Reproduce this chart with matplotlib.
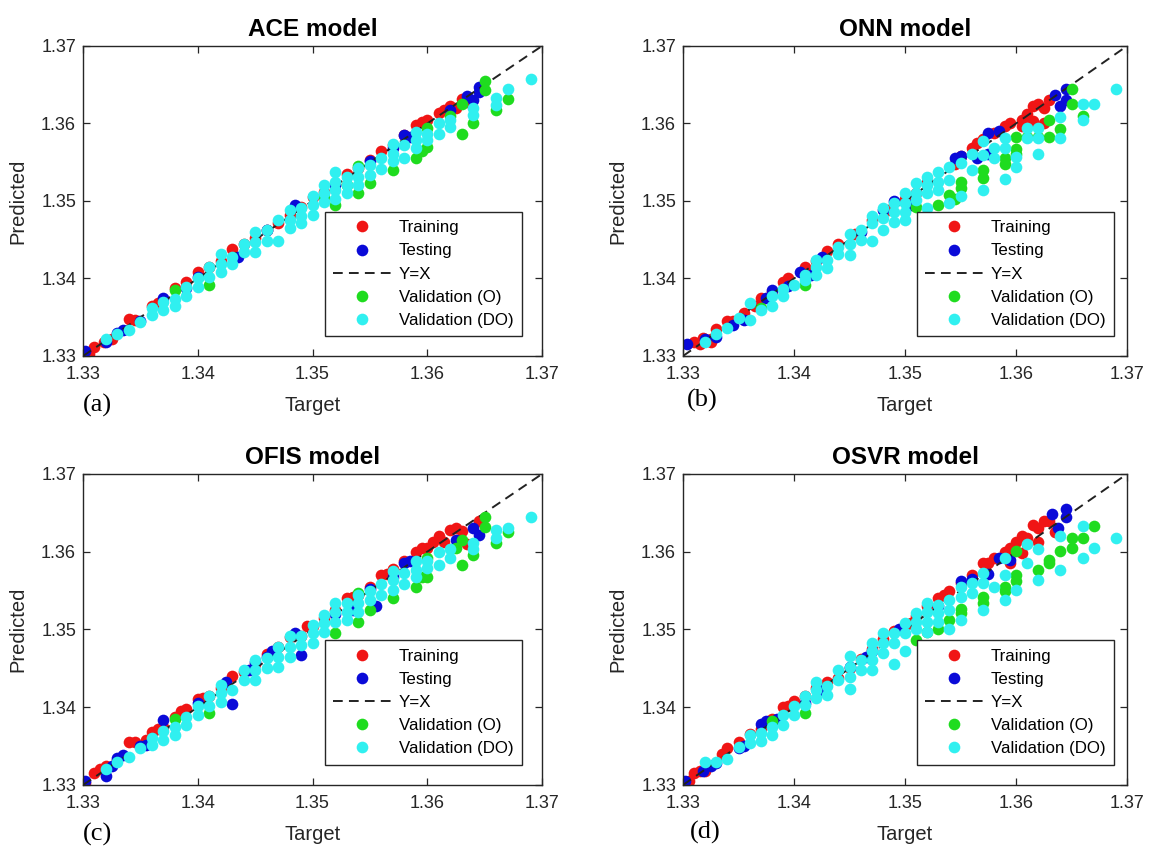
import matplotlib
matplotlib.use("Agg")
import matplotlib.pyplot as plt

# ---------------- data (Target, Predicted) ----------------
models = ["ACE model", "ONN model", "OFIS model", "OSVR model"]
panel_labels = ["(a)", "(b)", "(c)", "(d)"]
series_names = ["Training", "Testing", "Y=X", "Validation (O)", "Validation (DO)"]
axis_ticks = [1.33, 1.34, 1.35, 1.36, 1.37]
identity_line = [1.33, 1.37]

ace_training = [(1.3305,1.3303),(1.331,1.3311),(1.3318,1.3318),(1.3325,1.3322),(1.334,1.3348),(1.3345,1.3347),
    (1.336,1.3365),(1.3365,1.3368),(1.338,1.3388),(1.339,1.3395),(1.340,1.3408),(1.341,1.3415),(1.342,1.3423),
    (1.343,1.3438),(1.344,1.3445),(1.345,1.3452),(1.346,1.3462),(1.347,1.3472),(1.348,1.3482),(1.349,1.3492),
    (1.350,1.3505),(1.351,1.3512),(1.352,1.3522),(1.353,1.3535),(1.354,1.3543),(1.355,1.3553),(1.356,1.3565),
    (1.357,1.3572),(1.358,1.3585),(1.359,1.3598),(1.3595,1.3602),(1.360,1.3605),(1.361,1.3613),(1.3615,1.3617),
    (1.362,1.3622),(1.3625,1.3620),(1.363,1.3632),(1.3635,1.3628)]
ace_testing = [(1.3302,1.3306),(1.332,1.3318),(1.333,1.3330),(1.3335,1.3334),(1.335,1.3345),(1.337,1.3375),
    (1.339,1.3388),(1.340,1.3402),(1.3435,1.3428),(1.346,1.3462),(1.3485,1.3495),(1.352,1.3520),(1.355,1.3552),
    (1.357,1.3568),(1.358,1.3585),(1.3585,1.3582),(1.362,1.3618),(1.3635,1.3635),(1.364,1.3630),(1.3645,1.3647),
    (1.3645,1.3640)]
ace_val_o = [(1.338,1.3385),(1.341,1.3392),(1.351,1.3505),(1.352,1.3495),(1.353,1.3520),(1.354,1.3510),
    (1.354,1.3545),(1.355,1.3523),(1.357,1.3540),(1.359,1.3555),(1.3595,1.3565),(1.360,1.3570),(1.360,1.3594),
    (1.362,1.3610),(1.363,1.3587),(1.363,1.3625),(1.364,1.3600),(1.365,1.3643),(1.365,1.3655),(1.366,1.3618),
    (1.367,1.3632)]
ace_val_do = [(1.369,1.3657),(1.366,1.3633),(1.366,1.3624),(1.367,1.3644),(1.364,1.3620),(1.364,1.3611),
    (1.362,1.3604),(1.362,1.3595),(1.361,1.3600),(1.361,1.3587),(1.360,1.3587),(1.360,1.3579),(1.359,1.3589),
    (1.359,1.3579),(1.359,1.3568),(1.358,1.3556),(1.358,1.3572),(1.357,1.3574),(1.357,1.3561),(1.357,1.3551),
    (1.356,1.3556),(1.356,1.3541),(1.355,1.3547),(1.355,1.3534),(1.354,1.3543),(1.354,1.3531),(1.354,1.3521),
    (1.353,1.3531),(1.353,1.3521),(1.353,1.3510),(1.352,1.3538),(1.352,1.3525),(1.352,1.3514),(1.352,1.3503),
    (1.351,1.3521),(1.351,1.3510),(1.351,1.3499),(1.350,1.3506),(1.350,1.3495),(1.350,1.3482),(1.349,1.3491),
    (1.349,1.3480),(1.349,1.3471),(1.348,1.3488),(1.348,1.3475),(1.348,1.3465),(1.347,1.3475),(1.347,1.3448),
    (1.346,1.3462),(1.346,1.3449),(1.345,1.3460),(1.345,1.3447),(1.345,1.3434),(1.344,1.3445),(1.344,1.3434),
    (1.343,1.3428),(1.343,1.3419),(1.342,1.3432),(1.342,1.3419),(1.342,1.3409),(1.341,1.3415),(1.341,1.3402),
    (1.340,1.3400),(1.340,1.3389),(1.339,1.3389),(1.339,1.3377),(1.338,1.3374),(1.338,1.3364),(1.337,1.3370),
    (1.337,1.3359),(1.336,1.3362),(1.336,1.3353),(1.335,1.3344),(1.334,1.3334),(1.333,1.3329),(1.332,1.3322)]

onn_training = [(1.3310,1.3318),(1.3315,1.3315),(1.3318,1.3323),(1.3325,1.3322),(1.3325,1.3318),(1.333,1.3335),
    (1.334,1.3345),(1.3345,1.3345),(1.3355,1.3355),(1.3365,1.3365),(1.337,1.3375),(1.338,1.3383),(1.339,1.3395),
    (1.3395,1.3400),(1.341,1.3415),(1.342,1.3423),(1.343,1.3435),(1.344,1.3445),(1.3455,1.3458),(1.347,1.3475),
    (1.3485,1.3488),(1.350,1.3502),(1.351,1.3510),(1.352,1.3525),(1.3545,1.3548),(1.355,1.3558),(1.356,1.3568),
    (1.3565,1.3575),(1.357,1.3580),(1.358,1.3588),(1.359,1.3597),(1.3595,1.3600),(1.3605,1.3605),(1.3605,1.3597),
    (1.361,1.3612),(1.3615,1.3622),(1.3615,1.3603),(1.362,1.3625),(1.3625,1.3620),(1.3625,1.3600),(1.363,1.3630)]
onn_testing = [(1.3304,1.3315),(1.332,1.3322),(1.333,1.3325),(1.3345,1.3340),(1.3355,1.3347),(1.3375,1.3375),
    (1.338,1.3385),(1.3395,1.3390),(1.3405,1.3408),(1.3415,1.3405),(1.3425,1.3428),(1.346,1.3460),(1.348,1.3488),
    (1.349,1.3500),(1.3505,1.3495),(1.3545,1.3555),(1.355,1.3558),(1.3565,1.3555),(1.3575,1.3588),(1.3575,1.3560),
    (1.3585,1.3590),(1.3635,1.3637),(1.364,1.3622),(1.3645,1.3630),(1.3645,1.3645)]
onn_val_o = [(1.337,1.3362),(1.341,1.3392),(1.351,1.3492),(1.353,1.3495),(1.354,1.3508),(1.3545,1.3502),
    (1.355,1.3517),(1.355,1.3525),(1.357,1.3530),(1.357,1.3540),(1.359,1.3548),(1.359,1.3555),(1.360,1.3560),
    (1.360,1.3567),(1.360,1.3582),(1.361,1.3582),(1.362,1.3582),(1.363,1.3582),(1.363,1.3605),(1.364,1.3593),
    (1.365,1.3625),(1.365,1.3645),(1.366,1.3610)]
onn_val_do = [(1.369,1.3645),(1.366,1.3625),(1.367,1.3625),(1.366,1.3604),(1.364,1.3609),(1.364,1.3581),
    (1.362,1.3594),(1.362,1.3581),(1.362,1.3561),(1.361,1.3594),(1.361,1.3581),(1.360,1.3557),(1.360,1.3544),
    (1.359,1.3581),(1.359,1.3568),(1.359,1.3529),(1.358,1.3568),(1.358,1.3555),(1.357,1.3577),(1.357,1.3559),
    (1.357,1.3514),(1.356,1.3561),(1.356,1.3540),(1.355,1.3549),(1.355,1.3506),(1.354,1.3544),(1.354,1.3527),
    (1.354,1.3497),(1.353,1.3538),(1.353,1.3525),(1.353,1.3514),(1.352,1.3531),(1.352,1.3521),(1.352,1.3510),
    (1.352,1.3491),(1.351,1.3523),(1.351,1.3510),(1.351,1.3501),(1.350,1.3510),(1.350,1.3497),(1.350,1.3486),
    (1.350,1.3475),(1.349,1.3497),(1.349,1.3486),(1.349,1.3473),(1.348,1.3491),(1.348,1.3478),(1.348,1.3463),
    (1.347,1.3480),(1.347,1.3471),(1.347,1.3448),(1.346,1.3463),(1.346,1.3450),(1.345,1.3458),(1.345,1.3445),
    (1.345,1.3430),(1.344,1.3441),(1.344,1.3432),(1.343,1.3424),(1.343,1.3413),(1.342,1.3424),(1.342,1.3415),
    (1.342,1.3405),(1.341,1.3405),(1.341,1.3398),(1.340,1.3392),(1.339,1.3387),(1.339,1.3377),(1.338,1.3377),
    (1.338,1.3364),(1.337,1.3359),(1.336,1.3368),(1.336,1.3346),(1.335,1.3349),(1.334,1.3336),(1.333,1.3329),
    (1.332,1.3318)]

ofis_training = [(1.3302,1.3303),(1.331,1.3315),(1.3315,1.3320),(1.332,1.3325),(1.333,1.3332),(1.334,1.3355),
    (1.3345,1.3355),(1.3355,1.3358),(1.336,1.3368),(1.3365,1.3372),(1.337,1.3375),(1.338,1.3388),(1.3385,1.3395),
    (1.339,1.3398),(1.340,1.3410),(1.3405,1.3412),(1.341,1.3415),(1.342,1.3425),(1.343,1.3440),(1.344,1.3445),
    (1.345,1.3455),(1.346,1.3468),(1.347,1.3478),(1.348,1.3490),(1.349,1.3492),(1.3495,1.3505),(1.350,1.3505),
    (1.351,1.3515),(1.352,1.3525),(1.353,1.3540),(1.3535,1.3542),(1.354,1.3545),(1.355,1.3555),(1.356,1.3570),
    (1.3565,1.3572),(1.357,1.3578),(1.358,1.3588),(1.359,1.3600),(1.3595,1.3605),(1.360,1.3605),(1.3605,1.3612),
    (1.361,1.3620),(1.3615,1.3612),(1.362,1.3628),(1.3625,1.3630),(1.363,1.3627),(1.3635,1.3610),(1.3645,1.3640)]
ofis_testing = [(1.3302,1.3305),(1.332,1.3312),(1.3325,1.3325),(1.333,1.3335),(1.3335,1.3338),(1.335,1.3350),
    (1.3355,1.3352),(1.337,1.3383),(1.340,1.3405),(1.3425,1.3432),(1.343,1.3404),(1.3445,1.3448),(1.345,1.3458),
    (1.346,1.3465),(1.3465,1.3472),(1.3485,1.3495),(1.349,1.3467),(1.352,1.3520),(1.3535,1.3525),(1.355,1.3552),
    (1.3555,1.3530),(1.357,1.3568),(1.358,1.3585),(1.3585,1.3588),(1.3625,1.3615),(1.364,1.3630),(1.3645,1.3622)]
ofis_val_o = [(1.338,1.3385),(1.341,1.3392),(1.352,1.3495),(1.354,1.3510),(1.354,1.3547),(1.355,1.3525),
    (1.357,1.3540),(1.359,1.3555),(1.3595,1.3568),(1.360,1.3568),(1.360,1.3592),(1.3625,1.3605),(1.363,1.3583),
    (1.363,1.3615),(1.364,1.3596),(1.365,1.3632),(1.365,1.3645),(1.366,1.3611),(1.367,1.3626)]
ofis_val_do = [(1.369,1.3645),(1.366,1.3628),(1.366,1.3618),(1.367,1.3630),(1.364,1.3611),(1.364,1.3603),
    (1.362,1.3603),(1.362,1.3592),(1.361,1.3600),(1.361,1.3583),(1.360,1.3588),(1.360,1.3579),(1.359,1.3588),
    (1.359,1.3577),(1.359,1.3568),(1.358,1.3573),(1.358,1.3558),(1.357,1.3575),(1.357,1.3564),(1.357,1.3551),
    (1.356,1.3558),(1.356,1.3545),(1.355,1.3549),(1.355,1.3538),(1.354,1.3545),(1.354,1.3534),(1.354,1.3523),
    (1.353,1.3534),(1.353,1.3523),(1.353,1.3512),(1.352,1.3534),(1.352,1.3523),(1.352,1.3510),(1.351,1.3519),
    (1.351,1.3508),(1.351,1.3497),(1.350,1.3506),(1.350,1.3495),(1.350,1.3482),(1.349,1.3491),(1.349,1.3480),
    (1.348,1.3491),(1.348,1.3478),(1.348,1.3465),(1.347,1.3478),(1.347,1.3465),(1.347,1.3452),(1.346,1.3463),
    (1.346,1.3450),(1.345,1.3461),(1.345,1.3448),(1.345,1.3435),(1.344,1.3448),(1.344,1.3435),(1.343,1.3422),
    (1.342,1.3428),(1.342,1.3418),(1.342,1.3407),(1.341,1.3414),(1.341,1.3401),(1.340,1.3401),(1.340,1.3390),
    (1.339,1.3388),(1.339,1.3377),(1.338,1.3375),(1.338,1.3364),(1.337,1.3369),(1.337,1.3358),(1.336,1.3360),
    (1.336,1.3352),(1.335,1.3347),(1.334,1.3336),(1.333,1.3330),(1.332,1.3321)]

osvr_training = [(1.3305,1.3305),(1.331,1.3315),(1.3315,1.3318),(1.332,1.3318),(1.3335,1.3340),(1.334,1.3348),
    (1.335,1.3355),(1.336,1.3365),(1.337,1.3372),(1.338,1.3385),(1.339,1.3400),(1.3395,1.3402),(1.340,1.3408),
    (1.341,1.3415),(1.342,1.3425),(1.343,1.3432),(1.344,1.3438),(1.345,1.3450),(1.346,1.3462),(1.347,1.3475),
    (1.348,1.3488),(1.349,1.3498),(1.350,1.3505),(1.3505,1.3508),(1.351,1.3518),(1.352,1.3530),(1.353,1.3540),
    (1.3535,1.3545),(1.354,1.3550),(1.355,1.3560),(1.356,1.3570),(1.357,1.3585),(1.3575,1.3585),(1.358,1.3592),
    (1.359,1.3600),(1.3595,1.3605),(1.3595,1.3585),(1.360,1.3612),(1.3605,1.3620),(1.3605,1.3598),(1.361,1.3618),
    (1.3615,1.3635),(1.362,1.3630),(1.362,1.3612),(1.3625,1.3640),(1.363,1.3640),(1.3635,1.3625)]
osvr_testing = [(1.3302,1.3305),(1.3318,1.3318),(1.3325,1.3325),(1.333,1.3328),(1.335,1.3348),(1.3355,1.3350),
    (1.337,1.3378),(1.3375,1.3382),(1.3385,1.3385),(1.341,1.3405),(1.3425,1.3422),(1.345,1.3452),(1.3465,1.3465),
    (1.347,1.3472),(1.3495,1.3500),(1.353,1.3530),(1.355,1.3562),(1.356,1.3565),(1.3575,1.3572),(1.3585,1.3592),
    (1.3595,1.3590),(1.3632,1.3648),(1.3638,1.3630),(1.3645,1.3655),(1.3645,1.3645)]
osvr_val_o = [(1.338,1.3382),(1.341,1.3392),(1.351,1.3487),(1.352,1.3497),(1.353,1.3500),(1.354,1.3512),
    (1.355,1.3527),(1.355,1.3521),(1.357,1.3542),(1.357,1.3534),(1.359,1.3555),(1.359,1.3549),(1.360,1.3601),
    (1.360,1.3570),(1.360,1.3562),(1.362,1.3577),(1.363,1.3590),(1.363,1.3586),(1.364,1.3601),(1.365,1.3618),
    (1.365,1.3605),(1.366,1.3618),(1.367,1.3633)]
osvr_val_do = [(1.369,1.3618),(1.366,1.3633),(1.366,1.3592),(1.367,1.3605),(1.364,1.3620),(1.364,1.3577),
    (1.362,1.3603),(1.362,1.3564),(1.361,1.3610),(1.361,1.3585),(1.360,1.3551),(1.359,1.3592),(1.359,1.3570),
    (1.359,1.3538),(1.358,1.3555),(1.357,1.3573),(1.357,1.3560),(1.357,1.3525),(1.356,1.3560),(1.356,1.3547),
    (1.355,1.3555),(1.355,1.3542),(1.355,1.3512),(1.354,1.3538),(1.354,1.3525),(1.354,1.3500),(1.353,1.3532),
    (1.353,1.3521),(1.353,1.3510),(1.352,1.3534),(1.352,1.3523),(1.352,1.3510),(1.352,1.3497),(1.351,1.3521),
    (1.351,1.3510),(1.351,1.3500),(1.350,1.3508),(1.350,1.3495),(1.350,1.3472),(1.349,1.3495),(1.349,1.3482),
    (1.349,1.3455),(1.348,1.3495),(1.348,1.3482),(1.348,1.3470),(1.347,1.3482),(1.347,1.3472),(1.347,1.3461),
    (1.347,1.3448),(1.346,1.3461),(1.346,1.3448),(1.345,1.3466),(1.345,1.3452),(1.345,1.3439),(1.345,1.3424),
    (1.344,1.3448),(1.344,1.3435),(1.343,1.3427),(1.343,1.3416),(1.342,1.3433),(1.342,1.3422),(1.342,1.3412),
    (1.341,1.3414),(1.341,1.3403),(1.340,1.3401),(1.340,1.3390),(1.339,1.3390),(1.339,1.3377),(1.338,1.3375),
    (1.338,1.3364),(1.337,1.3367),(1.337,1.3356),(1.336,1.3364),(1.336,1.3354),(1.335,1.3349),(1.334,1.3334),
    (1.333,1.3330),(1.332,1.3329)]

model_data = [
    (ace_training, ace_testing, ace_val_o, ace_val_do),
    (onn_training, onn_testing, onn_val_o, onn_val_do),
    (ofis_training, ofis_testing, ofis_val_o, ofis_val_do),
    (osvr_training, osvr_testing, osvr_val_o, osvr_val_do),
]

# ---------------- styling ----------------
col_train = "#f01515"
col_test = "#0a0ad8"
col_val_o = "#1fdc1f"
col_val_do = "#30f0f0"
ms = 8.4
sans = ["Liberation Sans", "DejaVu Sans"]
plt.rcParams["font.family"] = sans

fig = plt.figure(figsize=(11.6, 8.46), dpi=100)
W, H = 1160, 846
boxes = [(83, 46, 459, 310), (683, 46, 444, 310), (83, 474, 459, 311), (683, 474, 444, 311)]
label_pos = [(97, 405), (702, 400), (97, 834), (705, 832)]
ylabel_x = [18, 618, 18, 618]

def unzip(pairs):
    return [p[0] for p in pairs], [p[1] for p in pairs]

for i, (l, t, w, h) in enumerate(boxes):
    ax = fig.add_axes([l / W, (H - t - h) / H, w / W, h / H])
    tr, te, vo, vd = model_data[i]
    x, y = unzip(tr)
    ax.plot(x, y, "o", ls="none", color=col_train, ms=ms, mec="none", label=series_names[0])
    x, y = unzip(te)
    ax.plot(x, y, "o", ls="none", color=col_test, ms=ms, mec="none", label=series_names[1])
    ax.plot(identity_line, identity_line, color="#222222", lw=1.4, dashes=(5, 3.2), label=series_names[2])
    x, y = unzip(vo)
    ax.plot(x, y, "o", ls="none", color=col_val_o, ms=ms, mec="none", label=series_names[3])
    x, y = unzip(vd)
    ax.plot(x, y, "o", ls="none", color=col_val_do, ms=ms, mec="none", label=series_names[4])

    ax.set_xlim(1.33, 1.37)
    ax.set_ylim(1.33, 1.37)
    ax.set_xticks(axis_ticks)
    ax.set_yticks(axis_ticks)
    ax.set_xticklabels([f"{v:.2f}" for v in axis_ticks])
    ax.set_yticklabels([f"{v:.2f}" for v in axis_ticks])
    ax.tick_params(direction="in", length=5, width=0.9, top=True, right=True,
                   labelsize=13, colors="#262626")
    ax.tick_params(axis="x", pad=7)
    ax.tick_params(axis="y", pad=5)
    for s in ax.spines.values():
        s.set_linewidth(1.0)
        s.set_color("#262626")

    ax.set_title(models[i], fontsize=17.5, fontweight="bold", pad=7, color="black")
    fig.text((l + w / 2) / W, 1 - 405 / H if i < 2 else 1 - 834 / H, "Target",
             ha="center", va="center", fontsize=14.5, color="#262626")
    fig.text(ylabel_x[i] / W, 1 - (t + h / 2) / H, "Predicted", rotation=90,
             ha="center", va="center", fontsize=14.5, color="#262626")
    lx, ly = label_pos[i]
    fig.text(lx / W, 1 - ly / H, panel_labels[i], ha="center", va="center",
             fontsize=19, family=["Liberation Serif", "DejaVu Serif"])

    leg = ax.legend(loc="upper left", bbox_to_anchor=(0.527, 0.465), borderaxespad=0,
                    fontsize=12.2, numpoints=1, handlelength=3.4, handletextpad=0.45,
                    labelspacing=0.48, borderpad=0.5, fancybox=False, framealpha=1,
                    edgecolor="#262626", markerscale=1.0)
    leg.get_frame().set_linewidth(1.0)

fig.savefig("out.png", dpi=100)
